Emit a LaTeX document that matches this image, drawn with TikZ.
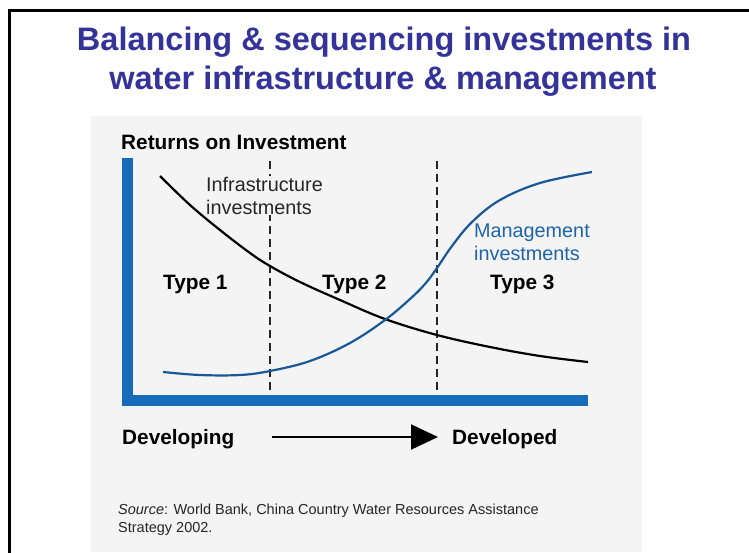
\documentclass[tikz,border=0pt]{standalone}
\usepackage{fontspec}
\setmainfont{Liberation Sans}
\usetikzlibrary{arrows.meta}
\definecolor{titleblue}{RGB}{51,51,153}
\definecolor{panelgray}{RGB}{244,244,244}
\definecolor{axisblue}{RGB}{22,108,185}
\definecolor{mgmtblue}{RGB}{24,88,150}
\definecolor{mgmttext}{RGB}{30,100,170}
\tikzset{
  titletext/.style={font=\fontsize{32.5}{38}\selectfont\bfseries, text=titleblue, inner sep=0pt, anchor=base},
  boldlab/.style={font=\fontsize{20.8}{24}\selectfont\bfseries, text=black, inner sep=0pt, anchor=base west},
  curvelab/.style={font=\fontsize{19.8}{23}\selectfont, inner sep=0pt, anchor=base west, align=left},
  srctext/.style={font=\fontsize{14.5}{18}\selectfont, text=black!85, inner sep=0pt, anchor=base west, align=left},
  axis/.style={line width=11pt, draw=axisblue},
  divider/.style={line width=2pt, dash pattern=on 8pt off 5pt, draw=black!85},
  curve/.style={line width=2.2pt},
}
\begin{document}
\begin{tikzpicture}[x=1pt,y=-1pt]
\useasboundingbox (0,0) rectangle (749,552);
\fill[white] (0,0) rectangle (749,552);
% frame
\draw[line width=3pt, line cap=rect] (9.5,552) -- (9.5,10.5) -- (749,10.5);
% title
\node[titletext] (t1) at (384,50) {Balancing \& sequencing investments in};
\node[titletext] (t2) at (383,89) {water infrastructure \& management};
% panel
\fill[panelgray] (91,116) rectangle (642,552);
% y label
\node[boldlab] (ylab) at (121,149) {Returns on Investment};
% dashed dividers
\coordinate (d1t) at (270,161);
\coordinate (d1b) at (270,396);
\coordinate (d2t) at (437,161);
\coordinate (d2b) at (437,396);
\draw[divider] (d1t) -- (d1b);
\draw[divider] (d2t) -- (d2b);
% axes
\coordinate (ytop) at (127.5,158);
\coordinate (orig) at (127.5,400.5);
\coordinate (xend) at (588,400.5);
\draw[axis] (ytop) -- (orig) -- (xend);
% infrastructure curve
\draw[curve, black] plot[smooth, tension=0.6] coordinates {
  (160,176) (190,205) (220,230) (250,253) (270,266) (300,282) (340,300)
  (385,319) (437,335) (490,347) (540,356) (588,362)};
% management curve
\draw[curve, mgmtblue] plot[smooth, tension=0.6] coordinates {
  (163,372) (200,375) (240,375) (270,371) (310,361) (350,343) (385,320)
  (410,299) (425,284) (437,268) (452,246) (472,222) (500,200) (540,183) (592,172)};
% curve labels
\node[curvelab, text=black!85, fill=panelgray, inner ysep=1pt, inner xsep=0pt] (infra) at (206,214) {Infrastructure\\investments};
\node[curvelab, text=mgmttext] (mgmt) at (474,260) {Management\\investments};
% type labels
\node[boldlab] (ty1) at (163,289) {Type 1};
\node[boldlab] (ty2) at (322,289) {Type 2};
\node[boldlab] (ty3) at (490,289) {Type 3};
% bottom axis labels
\node[boldlab] (dev1) at (122,444) {Developing};
\node[boldlab] (dev2) at (452,444) {Developed};
\draw[line width=2pt, -{Triangle[length=27pt, width=25pt]}] (272,437) -- (438,437);
% source
\node[srctext] (src) at (118,532) {\textit{Source}: World Bank, China Country Water Resources Assistance\\Strategy 2002.};
\end{tikzpicture}
\end{document}
